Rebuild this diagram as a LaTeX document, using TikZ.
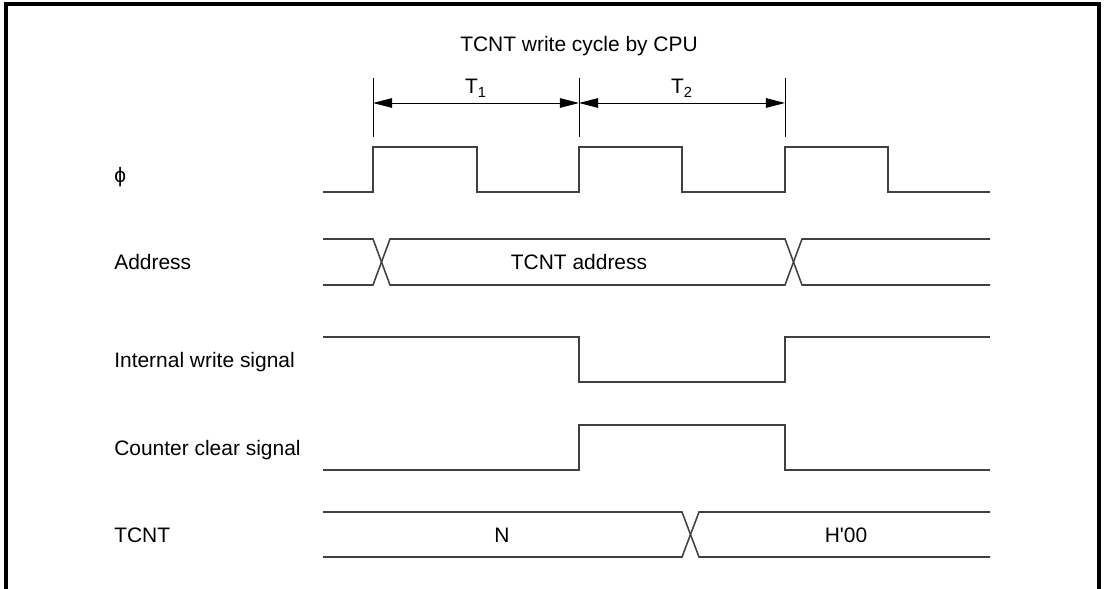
\documentclass[tikz,border=0pt]{standalone}
\usepackage{fontspec}
\setmainfont{Liberation Sans}[Ligatures=TeXOff]
\usepackage{tikz}
\usetikzlibrary{arrows.meta}
\tikzset{
    outer frame/.style={draw=black, line width=2.2pt},
    wave/.style={draw=black!75, line width=1.1pt},
    boundary/.style={draw=black, line width=0.7pt},
    period/.style={draw=black, line width=0.7pt, {Triangle[length=4.8mm, width=2.4mm]}-{Triangle[length=4.8mm, width=2.4mm]}},
    sig label/.style={anchor=base west, inner sep=0pt, font=\fontsize{14.9}{17}\selectfont},
    wave text/.style={anchor=base, inner sep=0pt, font=\fontsize{14.9}{17}\selectfont}
}

\begin{document}
\begin{tikzpicture}[x=0.025cm, y=-0.025cm]
    \useasboundingbox (0,0) rectangle (1104,589);
    \draw[outer frame] (6,589) |- (1099,4) -- (1099,589);

    \node[wave text] (title) at (579,52) {TCNT write cycle by CPU};
    \node[wave text] (t1) at (476,94) {T\textsubscript{1}};
    \node[wave text] (t2) at (682,94) {T\textsubscript{2}};

    \draw[boundary] (373,78) -- (373,137);
    \draw[boundary] (579,78) -- (579,137);
    \draw[boundary] (785,78) -- (785,137);
    \coordinate (b0) at (373,103);
    \coordinate (b1) at (579,103);
    \coordinate (b2) at (785,103);
    \draw[period] (b0) -- (b1);
    \draw[period] (b1) -- (b2);

    \node[sig label] (phi) at (114,183) {ϕ};
    \node[sig label] (addr) at (114,270) {Address};
    \node[sig label] (wr) at (114,368) {Internal write signal};
    \node[sig label] (clr) at (114,455) {Counter clear signal};
    \node[sig label] (cnt) at (114,542) {TCNT};

    \draw[wave] (323,192) -| (373,147) -| (477,192) -| (579,147) -| (682,192) -| (785,147) -| (888,192) -- (990,192);

    \draw[wave] (323,239) -- (373,239) -- (390,285) -- (785,285) -- (802,239) -- (990,239);
    \draw[wave] (323,285) -- (373,285) -- (390,239) -- (785,239) -- (802,285) -- (990,285);
    \node[wave text] (addrval) at (579,270) {TCNT address};

    \draw[wave] (323,337) -| (579,382) -| (785,337) -- (990,337);

    \draw[wave] (323,470) -| (579,425) -| (785,470) -- (990,470);

    \draw[wave] (323,512) -- (682,512) -- (699,557) -- (990,557);
    \draw[wave] (323,557) -- (682,557) -- (699,512) -- (990,512);
    \node[wave text] (oldval) at (502,542) {N};
    \node[wave text] (newval) at (846,542) {H'00};

\end{tikzpicture}
\end{document}
